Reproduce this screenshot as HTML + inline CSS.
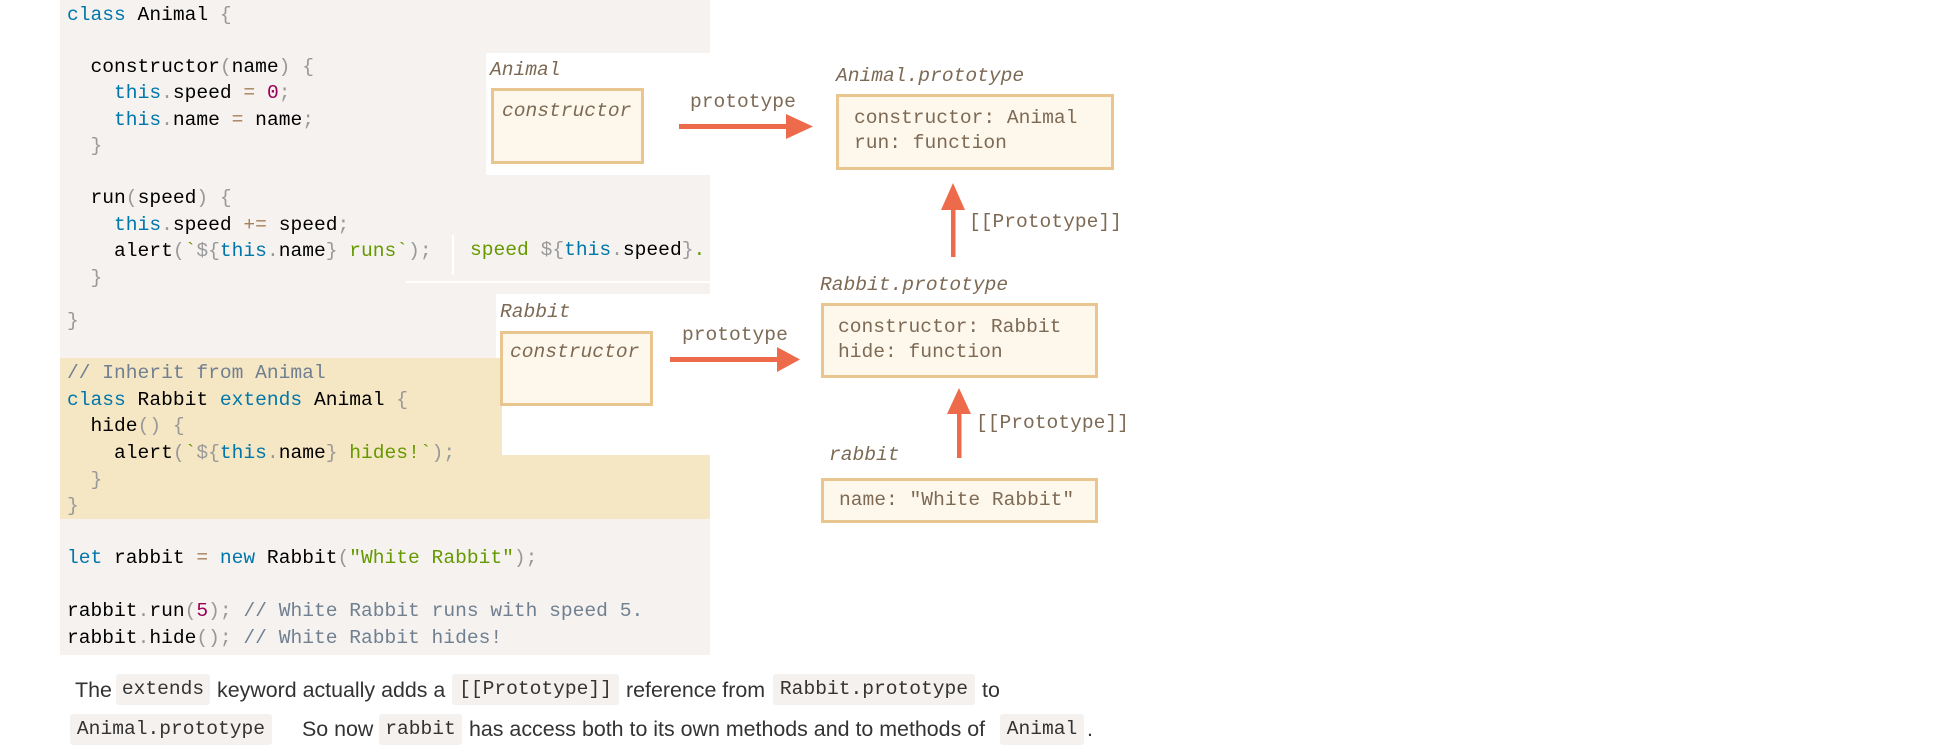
<!DOCTYPE html>
<html><head><meta charset="utf-8"><style>
body{margin:0;width:1946px;height:747px;background:#fff;position:relative;overflow:hidden}
.a{position:absolute}
.cl{position:absolute;left:67px;height:26px;line-height:26px;font:19.6px "Liberation Mono",monospace;white-space:pre;color:#000}
.k{color:#0077aa}.p{color:#999}.n{color:#990055}.s{color:#669900}.c{color:#708090}.o{color:#a67f59}
.m{position:absolute;font:19.6px "Liberation Mono",monospace;white-space:pre;color:#7d6a55;line-height:26px;height:26px}
.i{font-style:italic}
.box{position:absolute;border:3px solid #e9c58f;background:#fef8ec;box-sizing:border-box}
.t{position:absolute;font:21.4px "Liberation Sans",sans-serif;color:#333;line-height:31px;height:31px;white-space:pre}
.cs{position:absolute;font:19.6px "Liberation Mono",monospace;color:#333;background:#f4f1ee;line-height:31px;height:31px;white-space:pre;border-radius:3px;text-align:center}
</style></head><body>
<div class="a" style="left:60px;top:0;width:650px;height:655px;background:#f5f2f0"></div>
<div class="a" style="left:60px;top:358px;width:650px;height:161px;background:#f5e6c4"></div>
<!-- code -->
<div class="cl" style="top:4px"><span class="k">class</span> Animal <span class="p">{</span></div>
<div class="cl" style="top:56px">  constructor<span class="p">(</span>name<span class="p">)</span> <span class="p">{</span></div>
<div class="cl" style="top:82px">    <span class="k">this</span><span class="p">.</span>speed <span class="o">=</span> <span class="n">0</span><span class="p">;</span></div>
<div class="cl" style="top:109px">    <span class="k">this</span><span class="p">.</span>name <span class="o">=</span> name<span class="p">;</span></div>
<div class="cl" style="top:135px">  <span class="p">}</span></div>
<div class="cl" style="top:187px">  run<span class="p">(</span>speed<span class="p">)</span> <span class="p">{</span></div>
<div class="cl" style="top:214px">    <span class="k">this</span><span class="p">.</span>speed <span class="o">+=</span> speed<span class="p">;</span></div>
<div class="cl" style="top:240px">    alert<span class="p">(</span><span class="s">`</span><span class="p">${</span><span class="k">this</span><span class="p">.</span>name<span class="p">}</span><span class="s"> runs`</span><span class="p">);</span></div>
<div class="a" style="left:452px;top:235px;width:2px;height:40px;background:#fff"></div>
<div class="a" style="left:406px;top:281px;width:304px;height:2px;background:#fff"></div>
<div class="cl" style="top:239px;left:470px"><span class="s">speed </span><span class="p">${</span><span class="k">this</span><span class="p">.</span>speed<span class="p">}</span><span class="s">.</span></div>
<div class="cl" style="top:267px">  <span class="p">}</span></div>
<div class="cl" style="top:310px"><span class="p">}</span></div>
<div class="cl" style="top:362px"><span class="c">// Inherit from Animal</span></div>
<div class="cl" style="top:389px"><span class="k">class</span> Rabbit <span class="k">extends</span> Animal <span class="p">{</span></div>
<div class="cl" style="top:415px">  hide<span class="p">()</span> <span class="p">{</span></div>
<div class="cl" style="top:442px">    alert<span class="p">(</span><span class="s">`</span><span class="p">${</span><span class="k">this</span><span class="p">.</span>name<span class="p">}</span><span class="s"> hides!`</span><span class="p">);</span></div>
<div class="cl" style="top:469px">  <span class="p">}</span></div>
<div class="cl" style="top:495px"><span class="p">}</span></div>
<div class="cl" style="top:547px"><span class="k">let</span> rabbit <span class="o">=</span> <span class="k">new</span> Rabbit<span class="p">(</span><span class="s">"White Rabbit"</span><span class="p">);</span></div>
<div class="cl" style="top:600px">rabbit<span class="p">.</span>run<span class="p">(</span><span class="n">5</span><span class="p">);</span> <span class="c">// White Rabbit runs with speed 5.</span></div>
<div class="cl" style="top:627px">rabbit<span class="p">.</span>hide<span class="p">();</span> <span class="c">// White Rabbit hides!</span></div>
<!-- white overlays -->
<div class="a" style="left:486px;top:53px;width:224px;height:122px;background:#fff"></div>
<div class="a" style="left:496px;top:294px;width:214px;height:64px;background:#fff"></div>
<div class="a" style="left:502px;top:358px;width:208px;height:97px;background:#fff"></div>
<!-- diagram -->
<div class="m i" style="left:490px;top:57px">Animal</div>
<div class="box" style="left:491px;top:88px;width:153px;height:76px"></div>
<div class="m i" style="left:502px;top:98px">constructor</div>
<div class="m" style="left:690px;top:89px">prototype</div>
<div class="m i" style="left:836px;top:63px">Animal.prototype</div>
<div class="box" style="left:836px;top:94px;width:278px;height:76px"></div>
<div class="m" style="left:854px;top:105px">constructor: Animal</div>
<div class="m" style="left:854px;top:130px">run: function</div>
<div class="m" style="left:969px;top:209px">[[Prototype]]</div>
<div class="m i" style="left:500px;top:299px">Rabbit</div>
<div class="box" style="left:500px;top:331px;width:153px;height:75px"></div>
<div class="m i" style="left:510px;top:339px">constructor</div>
<div class="m" style="left:682px;top:322px">prototype</div>
<div class="m i" style="left:820px;top:272px">Rabbit.prototype</div>
<div class="box" style="left:821px;top:303px;width:277px;height:75px"></div>
<div class="m" style="left:838px;top:314px">constructor: Rabbit</div>
<div class="m" style="left:838px;top:339px">hide: function</div>
<div class="m" style="left:976px;top:410px">[[Prototype]]</div>
<div class="m i" style="left:829px;top:442px">rabbit</div>
<div class="box" style="left:821px;top:478px;width:277px;height:45px"></div>
<div class="m" style="left:839px;top:487px">name: "White Rabbit"</div>
<svg class="a" style="left:0;top:0" width="1946" height="747">
<g fill="#ed6b4b" stroke="none">
<rect x="679" y="124" width="110" height="5"/><polygon points="786,114 813,126.5 786,139"/>
<rect x="670" y="357" width="110" height="5"/><polygon points="777,347 800,359.5 777,372"/>
<rect x="951" y="205" width="4.5" height="52"/><polygon points="941,210 953,183 965,210"/>
<rect x="957" y="410" width="4.5" height="48"/><polygon points="947,414 959,388 971,414"/>
</g></svg>
<!-- paragraph -->
<div class="t" style="left:75px;top:675px">The</div>
<div class="cs" style="left:116px;top:674px;width:94px">extends</div>
<div class="t" style="left:217px;top:675px">keyword actually adds a</div>
<div class="cs" style="left:452px;top:674px;width:167px">[[Prototype]]</div>
<div class="t" style="left:626px;top:675px">reference from</div>
<div class="cs" style="left:773px;top:674px;width:202px">Rabbit.prototype</div>
<div class="t" style="left:982px;top:675px">to</div>
<div class="cs" style="left:70px;top:714px;width:202px">Animal.prototype</div>
<div class="t" style="left:302px;top:714px">So now</div>
<div class="cs" style="left:379px;top:714px;width:83px">rabbit</div>
<div class="t" style="left:469px;top:714px">has access both to its own methods and to methods of</div>
<div class="cs" style="left:1000px;top:714px;width:84px">Animal</div>
<div class="t" style="left:1087px;top:714px">.</div>
</body></html>
